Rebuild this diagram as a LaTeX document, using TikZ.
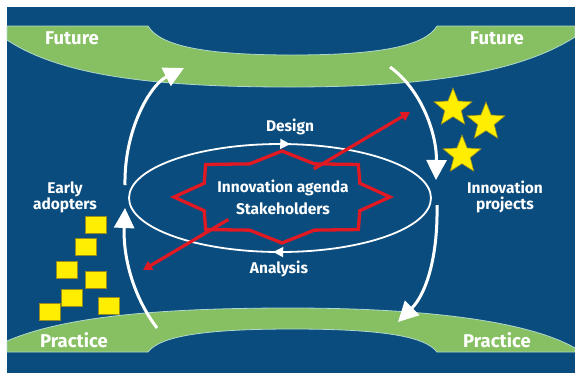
\documentclass[tikz,border=0pt]{standalone}
\usepackage{fontspec}
\setmainfont{Fira Sans}
\usetikzlibrary{shapes.geometric,arrows.meta,decorations.markings,calc}

\definecolor{sea}{RGB}{10,76,125}
\definecolor{leaf}{RGB}{134,192,98}
\definecolor{rim}{RGB}{175,215,205}
\definecolor{sun}{RGB}{255,238,0}
\definecolor{sunedge}{RGB}{150,140,30}
\definecolor{alarm}{RGB}{225,25,35}

\begin{document}
\begin{tikzpicture}[x=1pt,y=-1pt,
  greenband/.style={fill=leaf,draw=rim,line width=0.8pt},
  txt/.style={text=white,font=\bfseries\fontsize{15.5}{16}\selectfont,align=center,inner sep=0pt},
  bigtxt/.style={txt,font=\bfseries\fontsize{18.5}{20}\selectfont},
  bigarc/.style={white,line width=3pt,-{Triangle[length=20pt,width=20pt]}},
  ringline/.style={white,line width=1.8pt,postaction={decorate},
    decoration={markings,
      mark=at position 0.26 with {\arrow{Triangle[length=10pt,width=10pt]}},
      mark=at position 0.765 with {\arrow{Triangle[length=10pt,width=10pt]}}}},
  agendastar/.style={alarm,line width=3.3pt,line join=miter},
  redline/.style={alarm,line width=3.2pt,-{Triangle[length=9pt,width=10pt]}},
  block/.style={fill=sun,draw=sunedge,line width=0.6pt,minimum width=21pt,minimum height=17pt,inner sep=0pt},
  twinkle/.style={star,star points=5,star point ratio=2.3,fill=sun,draw=sunedge,line width=0.6pt,minimum size=40pt,inner sep=0pt}]

\fill[white] (0,0) rectangle (575,376);
\useasboundingbox (0,0) rectangle (575,376);
\fill[sea] (7,7) rectangle (575,373);

\draw[greenband] (7,26) -- (148,26) .. controls (160,46) and (205,55) .. (292,55)
  .. controls (380,55) and (425,46) .. (437,26) -- (575,26) -- (575,37)
  .. controls (520,72) and (430,87) .. (290,87) .. controls (150,87) and (60,75) .. (7,40) -- cycle;
\draw[greenband] (7,341) .. controls (60,318) and (150,308) .. (290,308)
  .. controls (430,308) and (530,322) .. (575,348) -- (575,352) -- (437,352)
  .. controls (425,336) and (380,329) .. (292,329) .. controls (205,329) and (160,336) .. (148,352) -- (7,352) -- cycle;

\node[bigtxt] (futL) at (72,38) {Future};
\node[bigtxt] (futR) at (497,38) {Future};
\node[bigtxt] (pracL) at (74,340) {Practice};
\node[bigtxt] (pracR) at (497,340) {Practice};

\draw[ringline] (280,198) ellipse [x radius=151, y radius=54];
\draw[agendastar] ({282+108},197) \foreach \i in {1,...,15} {
  -- ({282+108*cos(\i*22.5)*(1-0.22*mod(\i,2))},{197+46*sin(\i*22.5)*(1-0.22*mod(\i,2))})} -- cycle;

\coordinate (redSW) at (143,270);
\coordinate (redNE) at (410,112);
\draw[redline] ($(redSW)!0.32!(redNE)$) -- (redSW);
\draw[redline] ($(redSW)!0.64!(redNE)$) -- (redNE);

\node[txt] (design) at (290,127) {Design};
\node[txt] (analysis) at (279,269) {Analysis};
\node[txt] (agenda) at (283,197) {Innovation agenda\\[6pt]Stakeholders};
\node[txt] (early) at (65,197) {Early\\adopters};
\node[txt] (projects) at (505,197) {Innovation\\projects};

\coordinate (lbot) at (157,328);
\coordinate (lmid1) at (125,208);
\coordinate (lmid2) at (125,185);
\coordinate (ltop) at (184,68);
\coordinate (rtop) at (390,67);
\coordinate (rmid1) at (436,180);
\coordinate (rmid2) at (437,205);
\coordinate (rbot) at (398,322);
\draw[bigarc] (lbot) .. controls (132,295) and (123,255) .. (lmid1);
\draw[bigarc] (lmid2) .. controls (124,130) and (150,85) .. (ltop);
\draw[bigarc] (rtop) .. controls (422,90) and (437,135) .. (rmid1);
\draw[bigarc] (rmid2) .. controls (438,260) and (425,295) .. (rbot);

\foreach \n/\x/\y in {1/453/108,2/486/122,3/462/155}
  \node[twinkle] (star\n) at (\x,\y) {};
\foreach \n/\x/\y in {1/96/225,2/86/247,3/67/270,4/96/280,5/72/298,6/50/312,7/109/306}
  \node[block] (sq\n) at (\x,\y) {};
\end{tikzpicture}
\end{document}
